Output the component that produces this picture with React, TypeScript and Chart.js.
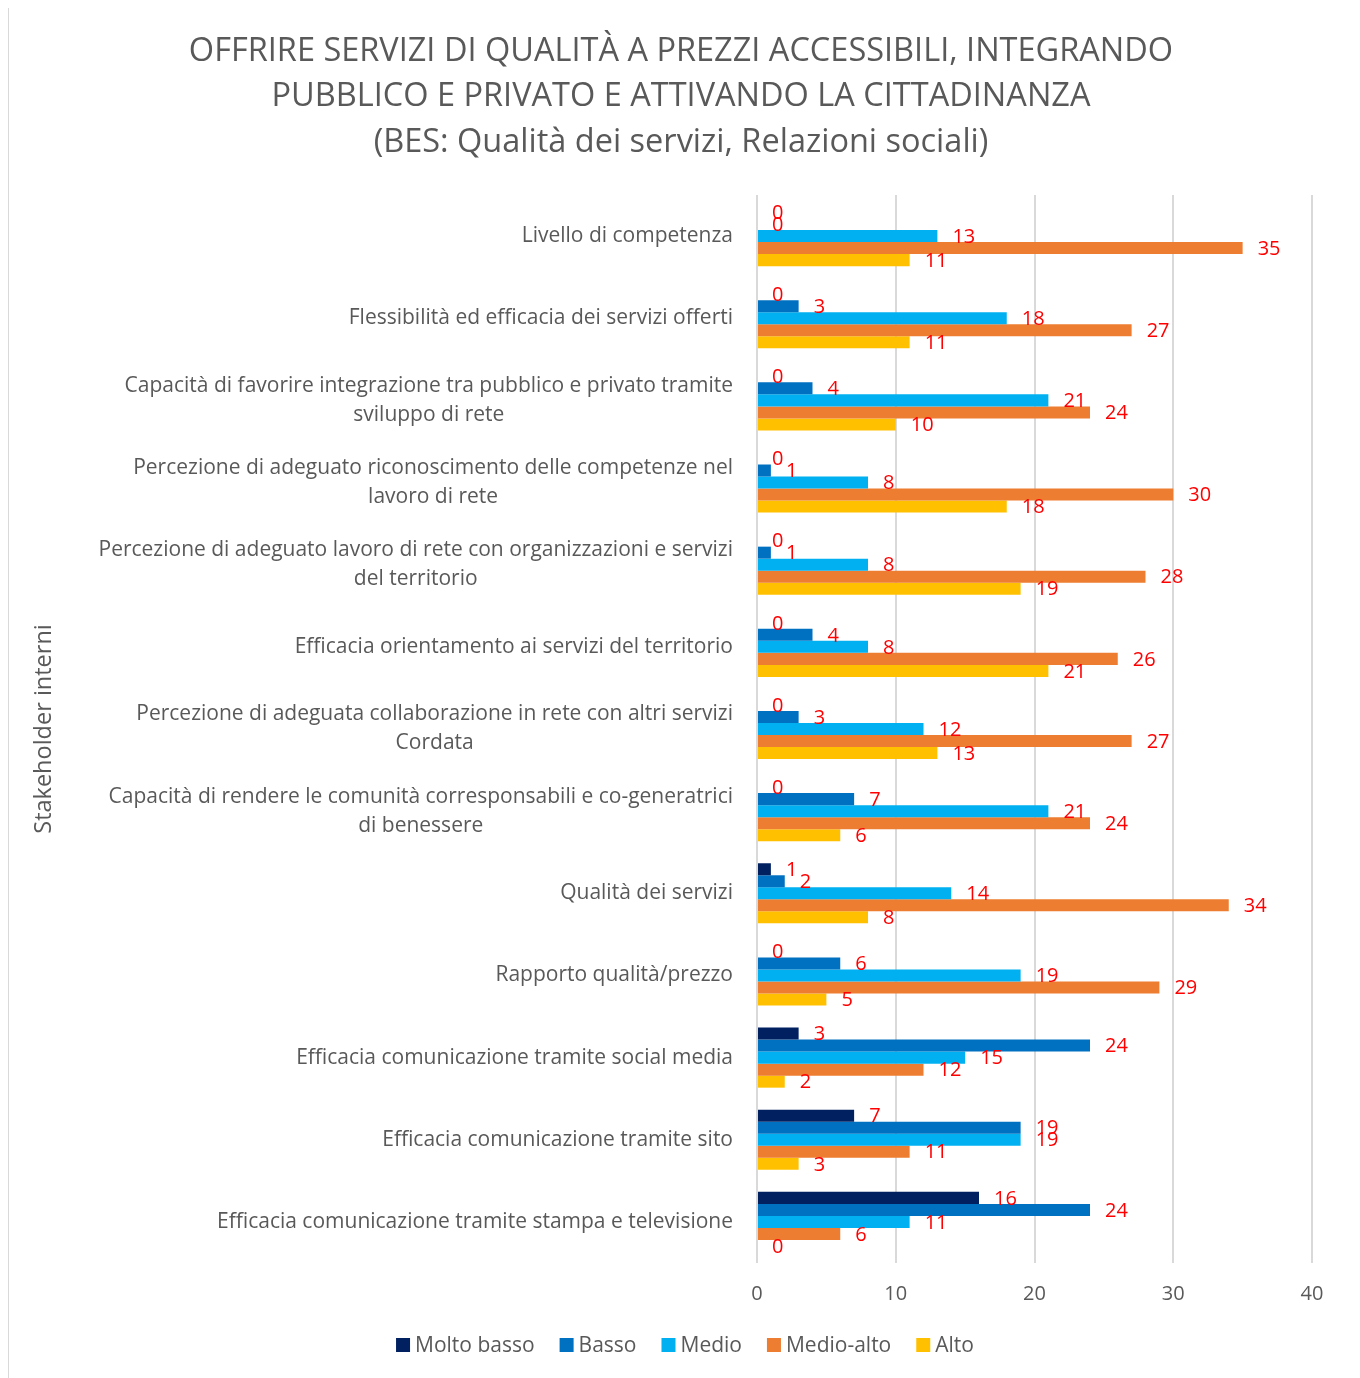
import React, { useEffect, useRef } from 'react';
import { Chart, registerables } from 'chart.js';

Chart.register(...registerables);

const categories: (string | string[])[] = [
  'Livello di competenza',
  'Flessibilità ed efficacia dei servizi offerti',
  ['Capacità di favorire integrazione tra pubblico e privato tramite', 'sviluppo di rete'],
  ['Percezione di adeguato riconoscimento delle competenze nel', 'lavoro di rete'],
  ['Percezione di adeguato lavoro di rete con organizzazioni e servizi', 'del territorio'],
  'Efficacia orientamento ai servizi del territorio',
  ['Percezione di adeguata collaborazione in rete con altri servizi', 'Cordata'],
  ['Capacità di rendere le comunità corresponsabili e co-generatrici', 'di benessere'],
  'Qualità dei servizi',
  'Rapporto qualità/prezzo',
  'Efficacia comunicazione tramite social media',
  'Efficacia comunicazione tramite sito',
  'Efficacia comunicazione tramite stampa e televisione',
];

const moltoBasso = [0, 0, 0, 0, 0, 0, 0, 0, 1, 0, 3, 7, 16];
const basso = [0, 3, 4, 1, 1, 4, 3, 7, 2, 6, 24, 19, 24];
const medio = [13, 18, 21, 8, 8, 8, 12, 21, 14, 19, 15, 19, 11];
const medioAlto = [35, 27, 24, 30, 28, 26, 27, 24, 34, 29, 12, 11, 6];
const alto = [11, 11, 10, 18, 19, 21, 13, 6, 8, 5, 2, 3, 0];

const seriesNames = ['Molto basso', 'Basso', 'Medio', 'Medio-alto', 'Alto'];
const seriesColors = ['#002060', '#0070C0', '#00B0F0', '#ED7D31', '#FFC000'];
const seriesValues = [moltoBasso, basso, medio, medioAlto, alto];

const titleLines = [
  'OFFRIRE SERVIZI DI QUALITÀ A PREZZI ACCESSIBILI, INTEGRANDO',
  'PUBBLICO E PRIVATO E ATTIVANDO LA CITTADINANZA',
  '(BES: Qualità dei servizi, Relazioni sociali)',
];
const yAxisTitle = 'Stakeholder interni';
const xMin = 0;
const xMax = 40;
const xStep = 10;

const FONT = '"Open Sans", sans-serif';
const GRAY = '#595959';
const CANVAS_W = 1344;
const CANVAS_H = 1372;

const valueLabelPlugin = {
  id: 'valueLabels',
  afterDatasetsDraw(chart: any) {
    const ctx = chart.ctx;
    ctx.save();
    ctx.font = `20px ${FONT}`;
    ctx.fillStyle = '#FF0000';
    ctx.textAlign = 'left';
    ctx.textBaseline = 'middle';
    chart.data.datasets.forEach((ds: any, di: number) => {
      const meta = chart.getDatasetMeta(di);
      meta.data.forEach((bar: any, i: number) => {
        ctx.fillText(String(ds.data[i]), bar.x + 15, bar.y + 1);
      });
    });
    ctx.restore();
  },
};

const categoryLabelPlugin = {
  id: 'categoryLabels',
  afterDraw(chart: any) {
    const ctx = chart.ctx;
    const scale = chart.scales.y;
    const right = chart.chartArea.left - 24;
    const lh = 29;
    ctx.save();
    ctx.font = `21px ${FONT}`;
    ctx.fillStyle = GRAY;
    ctx.textBaseline = 'middle';
    ctx.textAlign = 'center';
    categories.forEach((label, i) => {
      const lines = Array.isArray(label) ? label : [label];
      const w = Math.max(...lines.map((l) => ctx.measureText(l).width));
      const cx = right - w / 2;
      const cy = scale.getPixelForTick(i);
      const y0 = cy - ((lines.length - 1) * lh) / 2;
      lines.forEach((l, k) => ctx.fillText(l, cx, y0 + k * lh));
    });
    ctx.restore();
  },
};

const legendPlugin = {
  id: 'customLegend',
  afterDraw(chart: any) {
    const ctx = chart.ctx;
    ctx.save();
    ctx.font = `21px ${FONT}`;
    ctx.textBaseline = 'middle';
    ctx.textAlign = 'left';
    const box = 14;
    const gapBoxText = 5;
    const gapItems = 25;
    const widths = seriesNames.map((n) => box + gapBoxText + ctx.measureText(n).width);
    const total = widths.reduce((a, b) => a + b, 0) + gapItems * (seriesNames.length - 1);
    let x = 676 - total / 2;
    const y = 1339;
    seriesNames.forEach((n, i) => {
      ctx.fillStyle = seriesColors[i];
      ctx.fillRect(x, y - box / 2, box, box);
      ctx.fillStyle = GRAY;
      ctx.fillText(n, x + box + gapBoxText, y + 1);
      x += widths[i] + gapItems;
    });
    ctx.restore();
  },
};

export default function App() {
  const canvasRef = useRef<HTMLCanvasElement | null>(null);

  useEffect(() => {
    if (!canvasRef.current) return;
    const chart = new Chart(canvasRef.current, {
      type: 'bar',
      data: {
        labels: categories.map((c) => (Array.isArray(c) ? c.join(' ') : c)),
        datasets: seriesNames.map((name, i) => ({
          label: name,
          data: seriesValues[i],
          backgroundColor: seriesColors[i],
          borderWidth: 0,
          categoryPercentage: 60 / 82,
          barPercentage: 1,
        })),
      },
      options: {
        indexAxis: 'y',
        responsive: false,
        animation: false,
        devicePixelRatio: 1,
        layout: { padding: { left: 41, right: 41, top: 0, bottom: 53 } },
        plugins: {
          legend: { display: false },
          tooltip: { enabled: false },
          title: {
            display: true,
            text: titleLines,
            color: GRAY,
            font: { family: FONT, size: 32.5, lineHeight: 45.5 / 32.5, weight: 'normal' },
            padding: { top: 22.5, bottom: 30 },
          },
        },
        scales: {
          x: {
            type: 'linear',
            min: xMin,
            max: xMax,
            ticks: {
              stepSize: xStep,
              color: GRAY,
              padding: 19,
              font: { family: FONT, size: 20 },
            },
            grid: { color: '#D9D9D9', lineWidth: 2, drawTicks: false },
            border: { display: false },
          },
          y: {
            type: 'category',
            offset: true,
            ticks: { display: false },
            grid: { display: false, drawTicks: false },
            border: { display: false },
            title: {
              display: true,
              text: yAxisTitle,
              color: GRAY,
              font: { family: FONT, size: 23.5 },
              padding: { top: -20, bottom: 0 },
            },
            afterFit: (scale: any) => {
              scale.width = 707;
            },
          },
        },
      },
      plugins: [valueLabelPlugin, categoryLabelPlugin, legendPlugin],
    } as any);
    return () => chart.destroy();
  }, []);

  return (
    <div
      style={{
        marginTop: -3,
        width: CANVAS_W,
        height: CANVAS_H,
        border: '1px solid #D9D9D9',
        background: '#fff',
      }}
    >
      <canvas ref={canvasRef} width={CANVAS_W} height={CANVAS_H} style={{ display: 'block' }} />
    </div>
  );
}
